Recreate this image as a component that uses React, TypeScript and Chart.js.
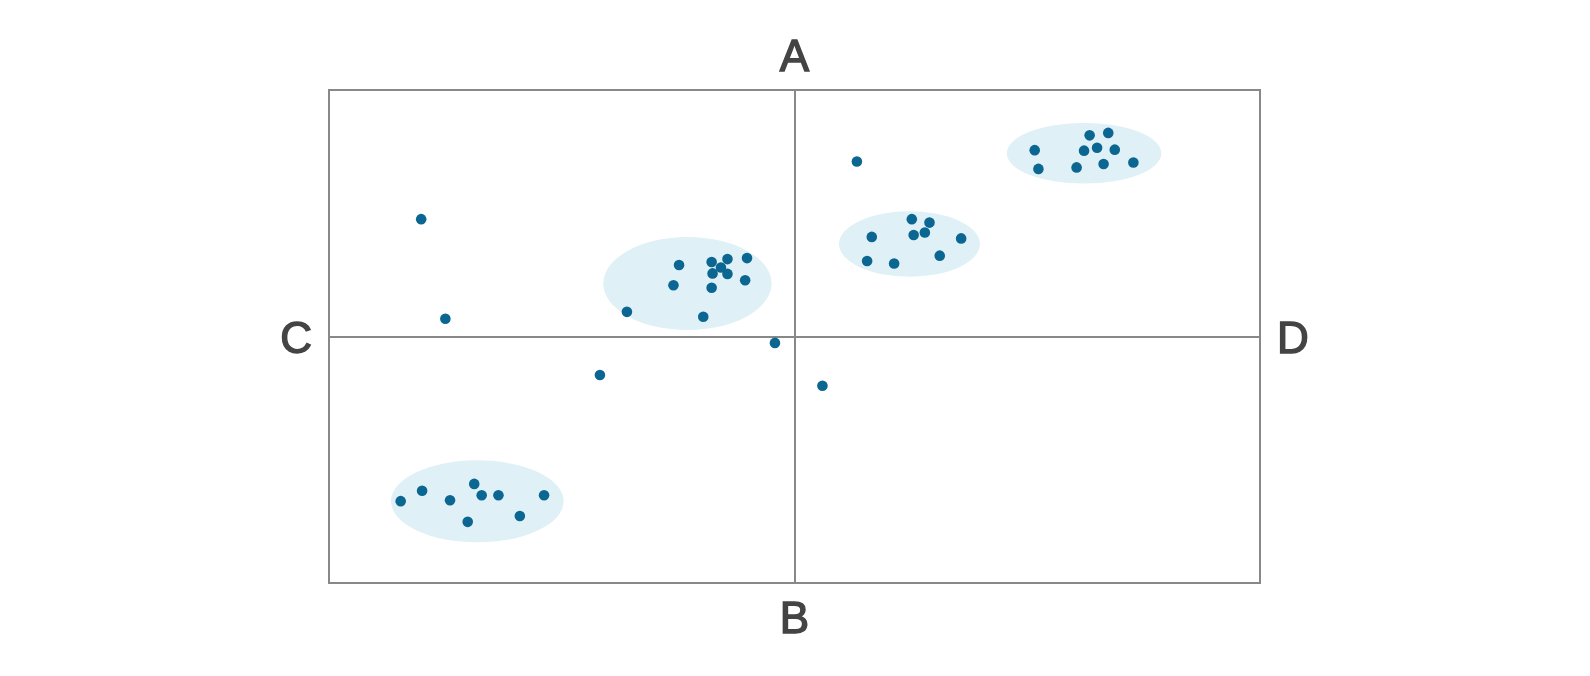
import React, { useEffect, useRef } from "react";
import { Chart, registerables } from "chart.js";

Chart.register(...registerables);

// Quadrant axis labels
const topLabel = "A";
const bottomLabel = "B";
const leftLabel = "C";
const rightLabel = "D";

// Scatter points (x, y on a 0–100 scale, centre = 50)
const pointsX = [
  9.9, 12.5,
  32.0, 37.6, 37.0, 41.1, 42.8, 42.1, 41.2, 42.8, 44.9, 44.7, 41.1, 40.2,
  47.9, 29.1, 53.0, 56.7,
  7.7, 10.0, 13.0, 15.6, 16.4, 18.2, 23.1, 20.5, 14.9,
  58.3, 57.8, 60.7, 62.6, 64.5, 62.8, 64.0, 67.9, 65.6,
  75.8, 76.2, 81.7, 83.7, 81.1, 82.5, 84.4, 80.3, 83.2, 86.4,
];
const pointsY = [
  73.8, 53.6,
  55.0, 64.5, 60.4, 65.1, 65.7, 64.0, 62.8, 62.7, 65.9, 61.4, 59.9, 54.0,
  48.7, 42.2, 40.0, 85.5,
  16.6, 18.7, 16.8, 20.1, 17.8, 17.8, 17.8, 13.6, 12.4,
  70.2, 65.3, 64.8, 73.8, 73.1, 70.6, 71.1, 69.9, 66.4,
  87.8, 84.0, 90.8, 91.3, 87.7, 88.3, 87.9, 84.3, 85.0, 85.3,
];

// Cluster ellipses (centre and radii in data units)
const ellipseCx = [38.5, 15.93, 62.35, 81.1];
const ellipseCy = [60.75, 16.57, 68.76, 87.16];
const ellipseRx = [9.04, 9.27, 7.57, 8.3];
const ellipseRy = [9.43, 8.32, 6.63, 6.15];

const POINT_COLOR = "#0b6791";
const ELLIPSE_COLOR = "rgb(223,240,247)";
const LINE_COLOR = "#888888";
const TEXT_COLOR = "#444444";
const LABEL_FONT = { family: "'Liberation Sans', Arial, sans-serif", size: 44, weight: "normal" as const };

const ellipsePlugin = {
  id: "clusterEllipses",
  beforeDatasetsDraw(chart: any) {
    const { ctx, scales } = chart;
    const xs = scales.x;
    const ys = scales.y;
    ctx.save();
    ctx.fillStyle = ELLIPSE_COLOR;
    for (let i = 0; i < ellipseCx.length; i++) {
      const cx = xs.getPixelForValue(ellipseCx[i]);
      const cy = ys.getPixelForValue(ellipseCy[i]);
      const rx = Math.abs(xs.getPixelForValue(ellipseCx[i] + ellipseRx[i]) - cx);
      const ry = Math.abs(ys.getPixelForValue(ellipseCy[i] + ellipseRy[i]) - cy);
      ctx.beginPath();
      ctx.ellipse(cx, cy, rx, ry, 0, 0, Math.PI * 2);
      ctx.fill();
    }
    ctx.restore();
  },
};

function labelAt(text: string) {
  return (v: any) => (v === 50 ? text : "");
}

export default function App() {
  const ref = useRef<HTMLCanvasElement | null>(null);

  useEffect(() => {
    if (!ref.current) return;
    const data = pointsX.map((x, i) => ({ x, y: pointsY[i] }));
    const gridOn = {
      color: LINE_COLOR,
      lineWidth: 2,
      drawTicks: false,
    };
    const tickText = {
      color: TEXT_COLOR,
      font: LABEL_FONT,
      textStrokeColor: TEXT_COLOR,
      textStrokeWidth: 1.4,
      autoSkip: false,
      stepSize: 50,
    };
    const chart = new Chart(ref.current, {
      type: "scatter",
      data: {
        datasets: [
          {
            data,
            backgroundColor: POINT_COLOR,
            borderWidth: 0,
            pointRadius: 5.3,
            pointHoverRadius: 5.3,
          },
        ],
      },
      options: {
        animation: false,
        responsive: true,
        maintainAspectRatio: false,
        layout: { padding: 0 },
        plugins: {
          legend: { display: false },
          tooltip: { enabled: false },
        },
        scales: {
          x: {
            type: "linear",
            position: "bottom",
            min: 0,
            max: 100,
            grid: gridOn,
            border: { display: true, color: LINE_COLOR, width: 2 },
            ticks: {
              ...tickText,
              callback: labelAt(bottomLabel),
              padding: 11,
              maxRotation: 0,
            },
            afterFit: (s: any) => {
              s.height = 85;
            },
          },
          x2: {
            type: "linear",
            position: "top",
            min: 0,
            max: 100,
            grid: { display: false, drawTicks: false },
            border: { display: true, color: LINE_COLOR, width: 2 },
            ticks: {
              ...tickText,
              callback: labelAt(topLabel),
              padding: 5,
              maxRotation: 0,
            },
            afterFit: (s: any) => {
              s.height = 82;
            },
          },
          y: {
            type: "linear",
            position: "left",
            min: 0,
            max: 100,
            grid: gridOn,
            border: { display: true, color: LINE_COLOR, width: 2 },
            ticks: {
              ...tickText,
              callback: labelAt(leftLabel),
              padding: 17,
              labelOffset: 4,
            },
            afterFit: (s: any) => {
              s.width = 321;
            },
          },
          y2: {
            type: "linear",
            position: "right",
            min: 0,
            max: 100,
            grid: { display: false, drawTicks: false },
            border: { display: true, color: LINE_COLOR, width: 2 },
            ticks: {
              ...tickText,
              callback: labelAt(rightLabel),
              padding: 17,
              labelOffset: 4,
            },
            afterFit: (s: any) => {
              s.width = 322;
            },
          },
        },
      },
      plugins: [ellipsePlugin],
    });
    return () => chart.destroy();
  }, []);

  return (
    <div style={{ width: "1574px", height: "660px", position: "relative" }}>
      <canvas ref={ref} />
    </div>
  );
}
